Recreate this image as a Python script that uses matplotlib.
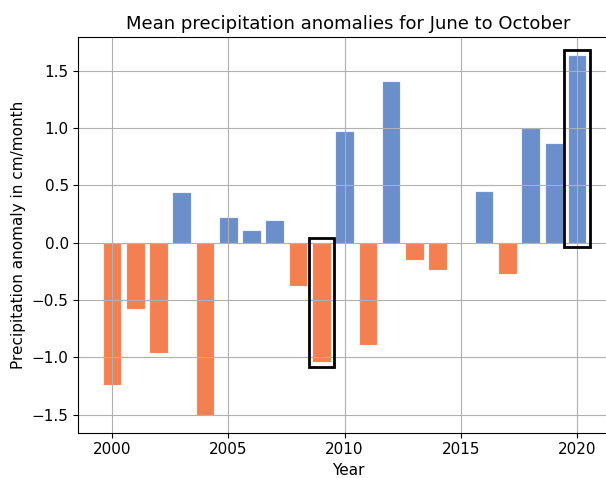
import numpy as np
import matplotlib
matplotlib.use("Agg")
import matplotlib.pyplot as plt
from matplotlib.patches import Rectangle

years = [2000, 2001, 2002, 2003, 2004, 2005, 2006, 2007, 2008, 2009, 2010,
         2011, 2012, 2013, 2014, 2016, 2017, 2018, 2019, 2020]
anomaly = [-1.24, -0.58, -0.96, 0.44, -1.50, 0.22, 0.11, 0.20, -0.38, -1.04, 0.97,
           -0.89, 1.41, -0.15, -0.24, 0.45, -0.27, 1.00, 0.87, 1.64]
highlight = [2009, 2020]

colors = ["#4573bf" if v > 0 else "#f26027" for v in anomaly]

plt.rcParams["font.size"] = 11

fig = plt.figure(figsize=(6.06, 4.78), dpi=100)
# right edge of the axes runs past the figure, as in the cropped original
ax = fig.add_axes([0.1295, 0.0948, 0.8905, 0.828])
ax.bar(years, anomaly, width=0.8, color=colors, alpha=0.8, edgecolor="white", linewidth=0.8)

for yr in highlight:
    v = anomaly[years.index(yr)]
    ax.add_patch(Rectangle((yr - 0.55, min(v, 0) - 0.04), 1.1, abs(v) + 0.08,
                           fill=False, edgecolor="black", linewidth=2, zorder=3))

ax.set_xlim(1998.56, 2021.76)
ax.set_ylim(-1.657, 1.795)
ax.set_xticks([2000, 2005, 2010, 2015, 2020])
ax.set_title("Mean precipitation anomalies for June to October", fontsize=13)
ax.set_xlabel("Year")
ax.set_ylabel("Precipitation anomaly in cm/month")
ax.spines["right"].set_visible(False)
ax.grid(True)

fig.savefig("out.png", dpi=100)
